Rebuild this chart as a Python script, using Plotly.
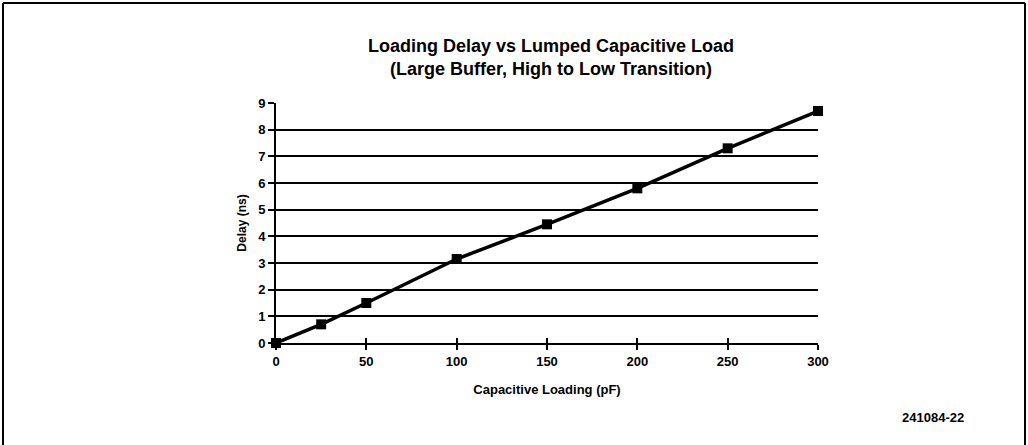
import plotly.graph_objects as go

cap_pf = [0, 25, 50, 100, 150, 200, 250, 300]
delay_ns = [0.0, 0.7, 1.5, 3.15, 4.45, 5.8, 7.3, 8.7]
x_ticks = [0, 50, 100, 150, 200, 250, 300]
y_ticks = [0, 1, 2, 3, 4, 5, 6, 7, 8, 9]

W, H = 1028, 445
L, R, T, B = 276, 818, 103, 343

fig = go.Figure()
fig.add_trace(go.Scatter(
    x=cap_pf, y=delay_ns, mode="lines+markers",
    line=dict(color="black", width=3.5),
    marker=dict(symbol="square", size=10, color="black"),
    cliponaxis=False, showlegend=False,
))
# invisible trace for overlay axis with inside ticks
fig.add_trace(go.Scatter(x=[0, 300], y=[0, 0], xaxis="x2", mode="lines",
                         line=dict(width=0), showlegend=False, hoverinfo="skip"))

tickfont = dict(family="Liberation Sans", size=13, color="black")
fig.update_layout(
    width=W, height=H,
    margin=dict(l=L, r=W - R, t=T, b=H - B, pad=0),
    paper_bgcolor="white", plot_bgcolor="white",
    title=dict(
        text="<b>Loading Delay vs Lumped Capacitive Load<br>(Large Buffer, High to Low Transition)</b>",
        x=551 / W, xanchor="center", y=1 - 52 / H, yanchor="middle",
        font=dict(family="Liberation Sans", size=18, color="black"),
    ),
    xaxis=dict(
        range=[0, 300], tickvals=x_ticks, ticktext=[f"<b>{v}</b>" for v in x_ticks],
        showgrid=False, zeroline=False, showline=True, linecolor="black", linewidth=2,
        ticks="outside", ticklen=5, tickwidth=2, tickcolor="black",
        tickfont=tickfont,
        title=dict(text="<b>Capacitive Loading (pF)</b>", standoff=17,
                   font=dict(family="Liberation Sans", size=13, color="black")),
    ),
    xaxis2=dict(
        range=[0, 300], overlaying="x", tickvals=x_ticks, showticklabels=False,
        showgrid=False, zeroline=False, ticks="inside", ticklen=5, tickwidth=2,
        tickcolor="black", anchor="y",
    ),
    yaxis=dict(
        range=[0, 9], tickvals=y_ticks, ticktext=[f"<b>{v}</b>" for v in y_ticks],
        showgrid=True, gridcolor="black", gridwidth=1.5, zeroline=False,
        showline=True, linecolor="black", linewidth=2,
        ticks="outside", ticklen=6, tickwidth=1.5, tickcolor="black",
        tickfont=tickfont,
        title=dict(text="<b>Delay (ns)</b>", standoff=9,
                   font=dict(family="Liberation Sans", size=12, color="black")),
    ),
)

# page frame
def px(xp):
    return (xp - L) / (R - L)
def py(yp):
    return (B - yp) / (B - T)

for x0, y0, x1, y1 in [(3, 3, 1025, 3), (3, 3, 3, 460), (1025, 3, 1025, 460)]:
    fig.add_shape(type="line", xref="paper", yref="paper",
                  x0=px(x0), y0=py(y0), x1=px(x1), y1=py(y1),
                  line=dict(color="black", width=2))

fig.add_annotation(text="<b>241084-22</b>", xref="paper", yref="paper",
                   x=px(966), y=py(417), xanchor="right", yanchor="middle",
                   showarrow=False,
                   font=dict(family="Liberation Sans", size=13, color="black"))

fig.write_html("out.html", config={"displayModeBar": False},
               post_script="document.body.style.margin='0';")
